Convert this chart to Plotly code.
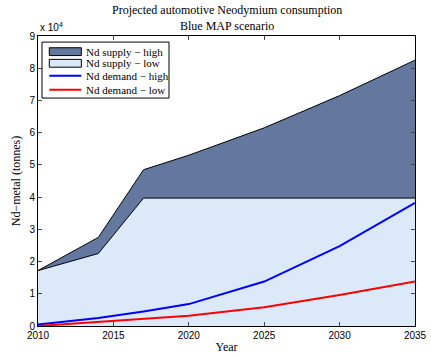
import plotly.graph_objects as go

# values in units of 10^4 tonnes
years = [2010, 2014, 2017, 2020, 2025, 2030, 2035]
supply_high = [1.72, 2.75, 4.85, 5.30, 6.15, 7.15, 8.25]
supply_low = [1.72, 2.25, 3.97, 3.97, 3.97, 3.97, 3.97]
demand_high = [0.05, 0.25, 0.45, 0.68, 1.38, 2.48, 3.82]
demand_low = [0.0, 0.12, 0.22, 0.32, 0.58, 0.96, 1.38]

SERIF = "Liberation Serif, Times New Roman, serif"
SANS = "Liberation Sans, Arial, sans-serif"
DARK = "#64789f"
LIGHT = "#dce9f8"

fig = go.Figure()

fig.add_trace(go.Scatter(
    x=years, y=supply_low, name="Nd supply − low", mode="lines",
    fill="tozeroy", fillcolor=LIGHT,
    line=dict(color="black", width=1),
))
fig.add_trace(go.Scatter(
    x=years, y=supply_high, name="Nd supply − high", mode="lines",
    fill="tonexty", fillcolor=DARK,
    line=dict(color="black", width=1),
))
fig.add_trace(go.Scatter(
    x=years, y=demand_high, name="Nd demand − high", mode="lines",
    line=dict(color="#0000ff", width=2),
))
fig.add_trace(go.Scatter(
    x=years, y=demand_low, name="Nd demand − low", mode="lines",
    line=dict(color="#ff0000", width=2),
))

# MATLAB-style legend box, drawn by hand so rows sit tight
legend_rows = [
    ("Nd supply − high", "patch", DARK, 0.946),
    ("Nd supply − low", "patch", LIGHT, 0.906),
    ("Nd demand − high", "line", "#0000ff", 0.863),
    ("Nd demand − low", "line", "#ff0000", 0.815),
]
shapes = [dict(type="rect", xref="paper", yref="paper",
               x0=0.0106, x1=0.3475, y0=0.786, y1=0.979,
               fillcolor="white", line=dict(color="black", width=1))]
annotations = []
for label, kind, color, yc in legend_rows:
    if kind == "patch":
        shapes.append(dict(type="rect", xref="paper", yref="paper",
                           x0=0.030, x1=0.115, y0=yc - 0.0135, y1=yc + 0.0135,
                           fillcolor=color, line=dict(color="black", width=1)))
    else:
        shapes.append(dict(type="line", xref="paper", yref="paper",
                           x0=0.030, x1=0.115, y0=yc, y1=yc,
                           line=dict(color=color, width=2)))
    annotations.append(dict(text=label, xref="paper", yref="paper",
                            x=0.121, y=yc, xanchor="left", yanchor="middle",
                            showarrow=False, font=dict(family=SERIF, size=11)))

annotations += [
    dict(
        text="Projected automotive Neodymium consumption<br>Blue MAP scenario",
        xref="paper", yref="paper", x=0.5, y=1.002,
        xanchor="center", yanchor="bottom", showarrow=False,
        font=dict(family=SERIF, size=12),
    ),
    dict(
        text="x 10<sup>4</sup>", xref="paper", yref="paper",
        x=0, y=1.005, xanchor="left", yanchor="bottom", showarrow=False,
        font=dict(family=SANS, size=10),
    ),
]

fig.update_layout(
    width=431, height=358,
    paper_bgcolor="white", plot_bgcolor="white",
    margin=dict(l=38, r=16, t=36, b=32),
    font=dict(family=SANS, size=10, color="black"),
    showlegend=False,
    shapes=shapes,
    annotations=annotations,
)

fig.update_xaxes(
    range=[2010, 2035], tickvals=[2010, 2015, 2020, 2025, 2030, 2035],
    ticks="inside", ticklen=4, showline=True, linecolor="black", linewidth=1,
    mirror="ticks", showgrid=False, zeroline=False, automargin=False,
    title=dict(text="Year", font=dict(family=SERIF, size=12), standoff=2),
)
fig.update_yaxes(
    range=[0, 9], dtick=1,
    ticks="inside", ticklen=4, showline=True, linecolor="black", linewidth=1,
    mirror="ticks", showgrid=False, zeroline=False, automargin=False,
    title=dict(text="Nd−metal (tonnes)", font=dict(family=SERIF, size=12), standoff=6),
)

fig.write_html("out.html", config={"displayModeBar": False},
               post_script="document.body.style.margin='0';")
